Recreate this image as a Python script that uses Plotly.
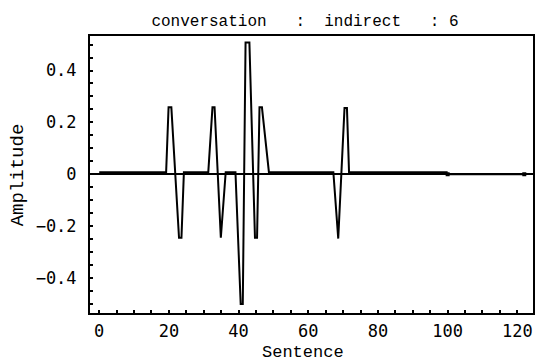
import plotly.graph_objects as go

# Amplitude of the wavelet response per sentence index
baseline = 0.008
sentence = [0, 19.2, 19.9, 20.7, 22.9, 23.6, 24.3,
            31.3, 32.5, 33.1, 34.9, 36.3, 39.1,
            40.6, 41.2, 42.0, 43.1, 44.7, 45.3, 46.0, 46.7, 48.7,
            67.2, 68.6, 70.4, 71.1, 71.7, 100]
amplitude = [baseline, baseline, 0.258, 0.258, -0.245, -0.245, baseline,
             baseline, 0.258, 0.258, -0.245, baseline, baseline,
             -0.500, -0.500, 0.508, 0.508, -0.245, -0.245, 0.258, 0.258, baseline,
             baseline, -0.248, 0.255, 0.255, baseline, baseline]

# Trailing zero-padded segment
tail_sentence = [100, 122]
tail_amplitude = [0.0, 0.0]

x_ticks = [0, 20, 40, 60, 80, 100, 120]
x_labels = ["0", "20", "40", "60", "80", "100", "120"]
y_ticks = [-0.4, -0.2, 0, 0.2, 0.4]
y_labels = ["\u22120.4", "\u22120.2", "0", "0.2", "0.4"]

title_text = "conversation   :  indirect   : 6"

fig = go.Figure()
fig.add_trace(go.Scatter(x=sentence, y=amplitude, mode="lines",
                         line=dict(color="black", width=2), hoverinfo="skip"))
fig.add_trace(go.Scatter(x=tail_sentence, y=tail_amplitude, mode="lines+markers",
                         line=dict(color="black", width=2),
                         marker=dict(symbol="square", size=4, color="black"),
                         hoverinfo="skip"))

tick_font = dict(family="DejaVu Sans Mono", size=17, color="black")
label_font = dict(family="Liberation Mono", size=17, color="black")

fig.update_layout(
    width=536, height=363,
    margin=dict(l=90, r=1, t=36, b=50),
    paper_bgcolor="white", plot_bgcolor="white",
    showlegend=False,
    title=dict(text=title_text, x=305 / 536, xanchor="center",
               y=1 - 20 / 363, yanchor="middle", yref="container",
               font=dict(family="Liberation Mono", size=16, color="black")),
    xaxis=dict(range=[-2.65, 124.5], tickvals=x_ticks, ticktext=x_labels,
               ticks="inside", ticklen=3, tickwidth=2, tickcolor="black",
               showline=True, linecolor="black", linewidth=2, mirror=True,
               showgrid=False, zeroline=False, tickfont=tick_font,
               ticklabelstandoff=2,
               minor=dict(dtick=5, ticks="inside", ticklen=3, tickwidth=2,
                          tickcolor="black", showgrid=False)),
    yaxis=dict(range=[-0.535, 0.533], tickvals=y_ticks, ticktext=y_labels,
               ticks="inside", ticklen=3, tickwidth=2, tickcolor="black",
               showline=True, linecolor="black", linewidth=2, mirror=True,
               showgrid=False, zeroline=True, zerolinecolor="black",
               zerolinewidth=1.5, tickfont=tick_font, ticklabelstandoff=8,
               minor=dict(dtick=0.05, ticks="inside", ticklen=3, tickwidth=2,
                          tickcolor="black", showgrid=False)),
    annotations=[
        dict(text="Sentence", xref="paper", yref="paper",
             x=(304 - 90) / 445, y=(313 - 352) / 277,
             xanchor="center", yanchor="middle", showarrow=False, font=label_font),
        dict(text="Amplitude", xref="paper", yref="paper",
             x=(18 - 90) / 445, y=(313 - 175) / 277, textangle=-90,
             xanchor="center", yanchor="middle", showarrow=False,
             font=dict(family="Liberation Mono", size=19, color="black")),
    ],
)

fig.write_html("out.html")
